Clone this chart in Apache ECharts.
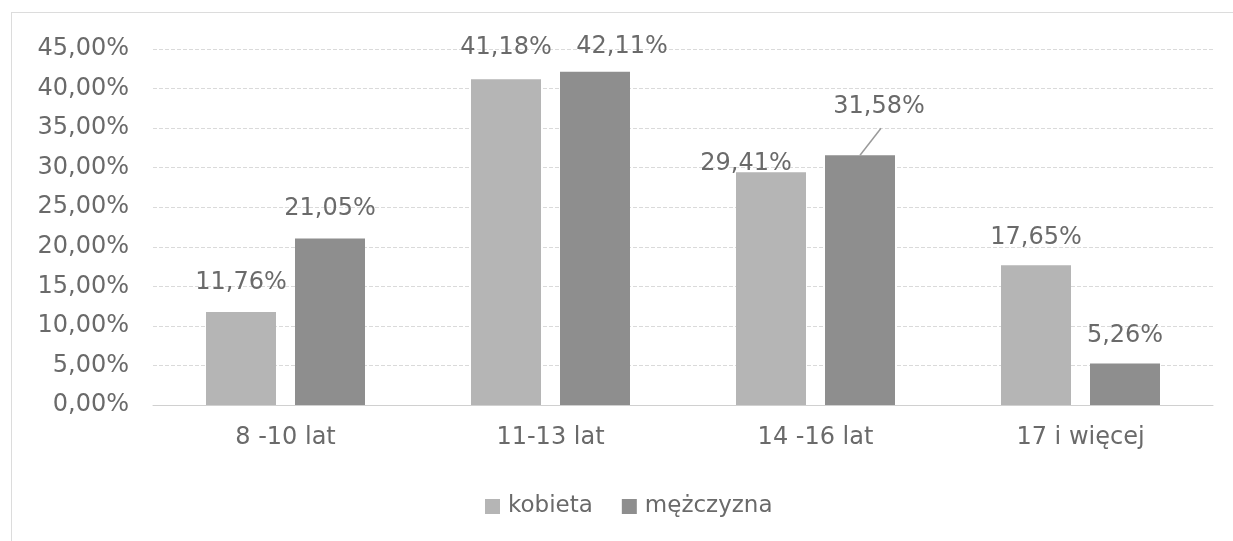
<!DOCTYPE html>
<html>
<head>
<meta charset="utf-8">
<script src="https://cdn.jsdelivr.net/npm/echarts@6/dist/echarts.min.js"></script>
<style>
  html, body { margin: 0; padding: 0; background: #fff; }
  .frame {
    position: absolute;
    left: 11px;
    top: 12px;
    width: 1240px;
    height: 560px;
    border: 1px solid #dcdcdc;
  }
  #chart { position: absolute; left: 0; top: 0; width: 1233px; height: 541px; }
</style>
</head>
<body>
<div class="frame"></div>
<div id="chart"></div>
<script>
const categories = ['8 -10 lat', '11-13 lat', '14 -16 lat', '17 i więcej']
const seriesNames = ['kobieta', 'mężczyzna']
const kobieta = [11.76, 41.18, 29.41, 17.65]
const mezczyzna = [21.05, 42.11, 31.58, 5.26]
const yTicks = { min: 0, max: 45, interval: 5 }

const fmt = (v) => v.toFixed(2).replace('.', ',') + '%'

// przesunięcia etykiet [dx, dy] względem domyślnej pozycji 'top'
const labelShift = [
  [[0, -13], [0, -15], [-25, 7], [0, -12]],
  [[0, -14], [27, -9], [19, -32], [0, -12]]
]
// etykieta 31,58% ma linię odniesienia
const guideIdx = 2

const chart = echarts.init(document.getElementById('chart'))
const txt = '#6a6a6a'
const font = 'DejaVu Sans'
const fs = 24
const barW = 70
const gapPx = 19

function makeSeries(name, values, color, s) {
  return {
    name: name,
    type: 'bar',
    barWidth: barW,
    barGap: (gapPx / barW * 100) + '%',
    itemStyle: { color: color },
    label: {
      show: true,
      position: 'top',
      distance: 4,
      color: txt,
      fontFamily: font,
      fontSize: fs,
      formatter: (p) => fmt(p.value)
    },
    labelLayout: (p) => {
      const d = labelShift[s][p.dataIndex]
      return { dx: d[0], dy: d[1] }
    },
    data: values
  }
}

chart.setOption({
  animation: false,
  grid: { left: 153, right: 20, top: 49, bottom: 136 },
  legend: {
    left: 480,
    top: 490,
    itemWidth: 15,
    itemHeight: 15,
    itemGap: 29,
    icon: 'rect',
    textStyle: { color: txt, fontFamily: font, fontSize: 23, padding: [0, 0, 0, 3] },
    data: seriesNames
  },
  xAxis: {
    type: 'category',
    data: categories,
    axisLine: { lineStyle: { color: '#d0d0d0' } },
    axisTick: { show: false },
    axisLabel: { color: txt, fontFamily: font, fontSize: fs, margin: 21 }
  },
  yAxis: {
    type: 'value',
    min: yTicks.min,
    max: yTicks.max,
    interval: yTicks.interval,
    axisLine: { show: false },
    axisTick: { show: false },
    splitLine: { lineStyle: { color: '#dadada', type: 'dashed' } },
    axisLabel: {
      color: txt,
      fontFamily: font,
      fontSize: fs,
      margin: 24,
      formatter: (v) => fmt(v)
    }
  },
  series: [
    makeSeries(seriesNames[0], kobieta, '#b5b5b5', 0),
    makeSeries(seriesNames[1], mezczyzna, '#8e8e8e', 1),
    {
      // linia od słupka do przesuniętej etykiety
      type: 'custom',
      silent: true,
      z: 5,
      data: [[guideIdx, mezczyzna[guideIdx]]],
      renderItem: (params, api) => {
        const p = api.coord([api.value(0), api.value(1)])
        const cx = p[0] + (barW + gapPx) / 2
        return {
          type: 'line',
          shape: { x1: cx, y1: p[1], x2: cx + 21, y2: p[1] - 27 },
          style: { stroke: '#9a9a9a', lineWidth: 1.5 }
        }
      }
    }
  ]
})
</script>
</body>
</html>
